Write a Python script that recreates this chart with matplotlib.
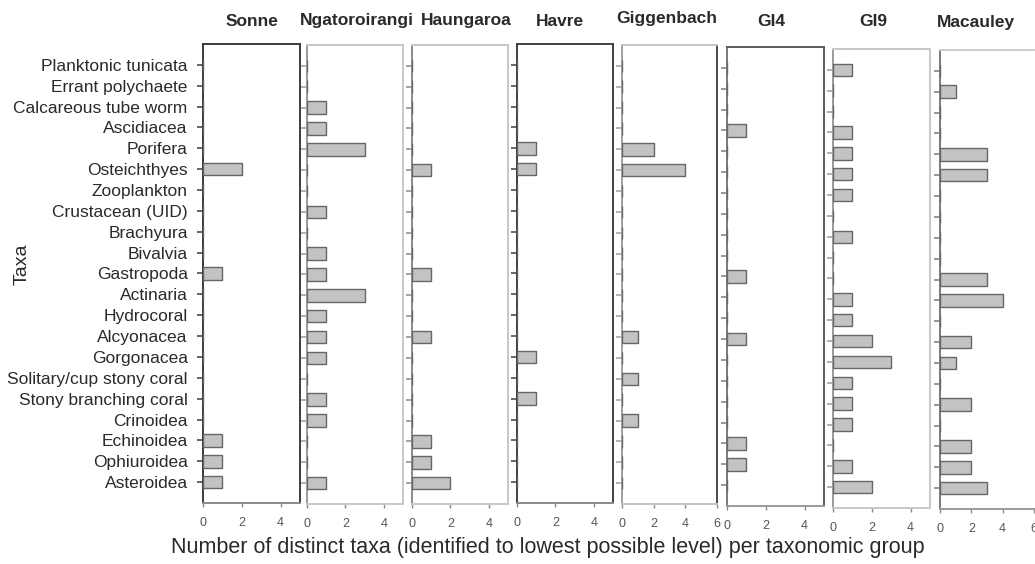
import matplotlib
matplotlib.use("Agg")
import matplotlib.pyplot as plt
import numpy as np

plt.rcParams["font.family"] = ["Liberation Sans", "DejaVu Sans"]

# Taxonomic groups, listed top to bottom
taxa = [
    "Planktonic tunicata", "Errant polychaete", "Calcareous tube worm",
    "Ascidiacea", "Porifera", "Osteichthyes", "Zooplankton",
    "Crustacean (UID)", "Brachyura", "Bivalvia", "Gastropoda", "Actinaria",
    "Hydrocoral", "Alcyonacea", "Gorgonacea", "Solitary/cup stony coral",
    "Stony branching coral", "Crinoidea", "Echinoidea", "Ophiuroidea",
    "Asteroidea",
]

sites = ["Sonne", "Ngatoroirangi", "Haungaroa", "Havre",
         "Giggenbach", "GI4", "GI9", "Macauley"]

# Number of distinct taxa per group at each seamount
sonne         = [0, 0, 0, 0, 0, 2, 0, 0, 0, 0, 1, 0, 0, 0, 0, 0, 0, 0, 1, 1, 1]
ngatoroirangi = [0, 0, 1, 1, 3, 0, 0, 1, 0, 1, 1, 3, 1, 1, 1, 0, 1, 1, 0, 0, 1]
haungaroa     = [0, 0, 0, 0, 0, 1, 0, 0, 0, 0, 1, 0, 0, 1, 0, 0, 0, 0, 1, 1, 2]
havre         = [0, 0, 0, 0, 1, 1, 0, 0, 0, 0, 0, 0, 0, 0, 1, 0, 1, 0, 0, 0, 0]
giggenbach    = [0, 0, 0, 0, 2, 4, 0, 0, 0, 0, 0, 0, 0, 1, 0, 1, 0, 1, 0, 0, 0]
gi4           = [0, 0, 0, 1, 0, 0, 0, 0, 0, 0, 1, 0, 0, 1, 0, 0, 0, 0, 1, 1, 0]
gi9           = [1, 0, 0, 1, 1, 1, 1, 0, 1, 0, 0, 1, 1, 2, 3, 1, 1, 1, 0, 1, 2]
macauley      = [0, 1, 0, 0, 3, 3, 0, 0, 0, 0, 3, 4, 0, 2, 1, 0, 2, 0, 2, 2, 3]

counts = [sonne, ngatoroirangi, haungaroa, havre, giggenbach, gi4, gi9, macauley]
x_max = [5, 5, 5, 5, 6, 5, 5, 6]
x_ticks = [[0, 2, 4], [0, 2, 4], [0, 2, 4], [0, 2, 4],
           [0, 2, 4, 6], [0, 2, 4], [0, 2, 4], [0, 2, 4, 6]]

W, H = 1035, 564
fig = plt.figure(figsize=(W / 100, H / 100), dpi=100)
fig.patch.set_facecolor("white")

# Panel placement in pixels: left, right, top
panel_px = [
    (203, 300, 44), (307, 403, 45), (412, 508, 45), (517, 613, 44),
    (622, 717, 45), (727, 824, 47), (833, 930, 49), (940, 1034, 50),
]
panel_h = 459

# Frame colours: (top, right, bottom, left)
frames = [
    ("#3c3c3c", "#3c3c3c", "#8a8a8a", "#3c3c3c"),
    ("#c8c8c8", "#c8c8c8", "#c8c8c8", "#9a9a9a"),
    ("#c8c8c8", "#c8c8c8", "#c8c8c8", "#8a8a8a"),
    ("#404040", "#404040", "#8a8a8a", "#404040"),
    ("#c4c4c4", "#4a4a4a", "#c4c4c4", "#a0a0a0"),
    ("#5a5a5a", "#5a5a5a", "#9a9a9a", "#7a7a7a"),
    ("#c8c8c8", "#c8c8c8", "#c8c8c8", "#9a9a9a"),
    ("#cccccc", "#ffffff", "#9a9a9a", "#7a7a7a"),
]

title_px = [(252, 21), (357, 20), (466, 21), (560, 22),
            (667, 19), (771, 21), (873, 21), (976, 22)]

y = np.arange(len(taxa))

for i, (site, vals) in enumerate(zip(sites, counts)):
    L, R, T = panel_px[i]
    ax = fig.add_axes([L / W, 1 - (T + panel_h) / H, (R - L) / W, panel_h / H])
    ax.barh(y, vals, height=0.6, color="#c3c3c3", edgecolor="#666666",
            linewidth=1.0, zorder=3)
    ax.set_ylim(len(taxa), -1)
    ax.set_xlim(0, x_max[i])
    ax.set_xticks(x_ticks[i])
    ax.set_yticks(y)
    if i == 0:
        ax.set_yticklabels(taxa, fontsize=12.5, color="#2a2a2a")
    else:
        ax.set_yticklabels([])
    top, right, bottom, left = frames[i]
    ax.spines["top"].set_color(top)
    ax.spines["right"].set_color(right)
    ax.spines["bottom"].set_color(bottom)
    ax.spines["left"].set_color(left)
    for s in ax.spines.values():
        s.set_linewidth(1.4)
    ax.tick_params(axis="y", direction="out", length=4, width=1.1,
                   color=left, pad=7)
    ax.tick_params(axis="x", direction="out", length=3, width=1.0,
                   color="#8a8a8a", labelsize=9, labelcolor="#555555", pad=7)
    fig.text(title_px[i][0] / W, 1 - title_px[i][1] / H, site,
             ha="center", va="center", fontsize=12.5, fontweight="bold",
             color="#2a2a2a")

fig.text(22 / W, 1 - 264 / H, "Taxa", rotation=90, ha="center", va="center",
         fontsize=14, color="#2a2a2a")
fig.text(548 / W, 1 - 548 / H,
         "Number of distinct taxa (identified to lowest possible level) per taxonomic group",
         ha="center", va="center", fontsize=15.5, color="#2a2a2a")

fig.savefig("out.png", dpi=100, facecolor="white")
